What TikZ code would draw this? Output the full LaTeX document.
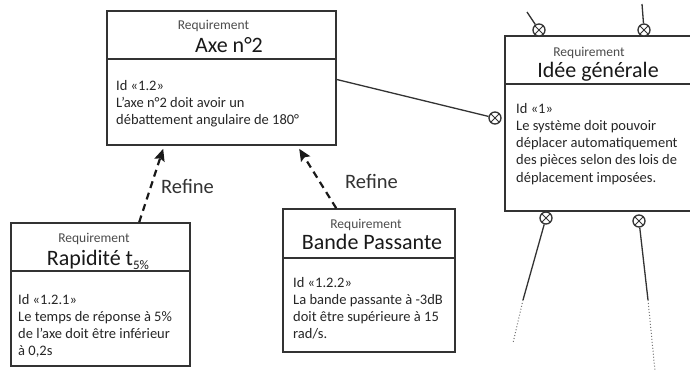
\documentclass[tikz,border=0pt]{standalone}
\usepackage{fontspec}
\setmainfont{Carlito}
\usetikzlibrary{arrows.meta,calc}
\begin{document}
\begin{tikzpicture}[x=1pt,y=-1pt,
  box/.style={draw=black!80, line width=1.6pt, inner sep=0pt, fill=white},
  divider/.style={draw=black!80, line width=1.6pt},
  reqlabel/.style={font=\fontsize{13.5}{15}\selectfont, text=black!70, inner sep=0pt, anchor=base},
  reqtitle/.style={font=\fontsize{22}{24}\selectfont, text=black!90, inner sep=0pt, anchor=base},
  reqbody/.style={font=\fontsize{14.5}{17.2}\selectfont, text=black!85, inner sep=0pt, align=left, anchor=north west},
  refine/.style={draw=black!90, line width=2.2pt, dash pattern=on 7pt off 5pt, -{Stealth[length=12pt,width=10.5pt,inset=2pt]}},
  reflabel/.style={font=\fontsize{20.5}{22}\selectfont, text=black!80, inner sep=0pt, anchor=base},
  port/.style={circle, draw=black!80, line width=1.3pt, minimum size=12pt, inner sep=0pt, fill=white,
    path picture={\draw[black!80,line width=1pt] (path picture bounding box.north west) -- (path picture bounding box.south east) (path picture bounding box.north east) -- (path picture bounding box.south west);}},
  wire/.style={draw=black!80, line width=1.3pt},
  fade/.style={draw=black!55, line width=1pt, dotted}
]
\clip (0,0) rectangle (690,372);
\fill[white] (0,0) rectangle (690,372);

% Axe n°2
\node[box, minimum width=229pt, minimum height=134pt] (axe) at (221.5,78) {};
\draw[divider] ([yshift=-49pt]axe.north west) -- ([yshift=-49pt]axe.north east);
\node[reqlabel] (axereq) at (213.5,29) {Requirement};
\node[reqtitle] (axetitle) at (229,52.5) {Axe n°2};
\node[reqbody] (axebody) at (116,80) {Id «1.2»\\L'axe n°2 doit avoir un\\débattement angulaire de 180°};

% Idée générale
\node[box, minimum width=205pt, minimum height=175pt] (idee) at (607.5,123.5) {};
\draw[divider] ([yshift=-49pt]idee.north west) -- ([yshift=-49pt]idee.north east);
\node[reqlabel] (ideereq) at (589,56) {Requirement};
\node[reqtitle] (ideetitle) at (598,77.5) {Idée générale};
\node[reqbody] (ideebody) at (516,103) {Id «1»\\Le système doit pouvoir\\déplacer automatiquement\\des pièces selon des lois de\\déplacement imposées.};

% Rapidité
\node[box, minimum width=179pt, minimum height=143pt] (rap) at (100.5,294.5) {};
\draw[divider] ([yshift=-49pt]rap.north west) -- ([yshift=-49pt]rap.north east);
\node[reqlabel] (rapreq) at (94,242) {Requirement};
\node[reqtitle] (raptitle) at (98,265.5) {Rapidité t\raisebox{-3.5pt}{\fontsize{13}{13}\selectfont 5\%}};
\node[reqbody] (rapbody) at (18,294) {Id «1.2.1»\\Le temps de réponse à 5\%\\de l'axe doit être inférieur\\à 0,2s};

% Bande Passante
\node[box, minimum width=172pt, minimum height=143pt] (bande) at (369,280.5) {};
\draw[divider] ([yshift=-50pt]bande.north west) -- ([yshift=-50pt]bande.north east);
\node[reqlabel] (bandereq) at (366,228) {Requirement};
\node[reqtitle] (bandetitle) at (372,249.5) {Bande Passante};
\node[reqbody] (bandebody) at (293,277) {Id «1.2.2»\\La bande passante à -3dB\\doit être supérieure à 15\\rad/s.};

% Refine arrows
\draw[refine] ([xshift=129pt]rap.north west) -- ([xshift=57pt,yshift=-3pt]axe.south west);
\node[reflabel] (ref1) at (187.5,193) {Refine};
\draw[refine] ([xshift=54pt]bande.north west) -- ([xshift=193pt,yshift=-3pt]axe.south west);
\node[reflabel] (ref2) at (371.5,188) {Refine};

% ports
\node[port] (pL) at (495,118) {};
\node[port] (pT1) at (539,30) {};
\node[port] (pT2) at (644,30) {};
\node[port] (pB1) at (546,218) {};
\node[port] (pB2) at (639,221) {};

\coordinate (t1) at (527,12);
\coordinate (t2) at (642,4);
\coordinate (b1m) at (523,300);
\coordinate (b1e) at (513,343);
\coordinate (b2m) at (648,300);
\coordinate (b2e) at (655,371);

\draw[wire] ([yshift=-1.5pt]axe.east) -- (pL);
\draw[wire] (t1) -- (pT1);
\draw[wire] (t2) -- (pT2);
\draw[wire] (pB1) -- (b1m);
\draw[fade] (b1m) -- (b1e);
\draw[wire] (pB2) -- (b2m);
\draw[fade] (b2m) -- (b2e);
\end{tikzpicture}
\end{document}
